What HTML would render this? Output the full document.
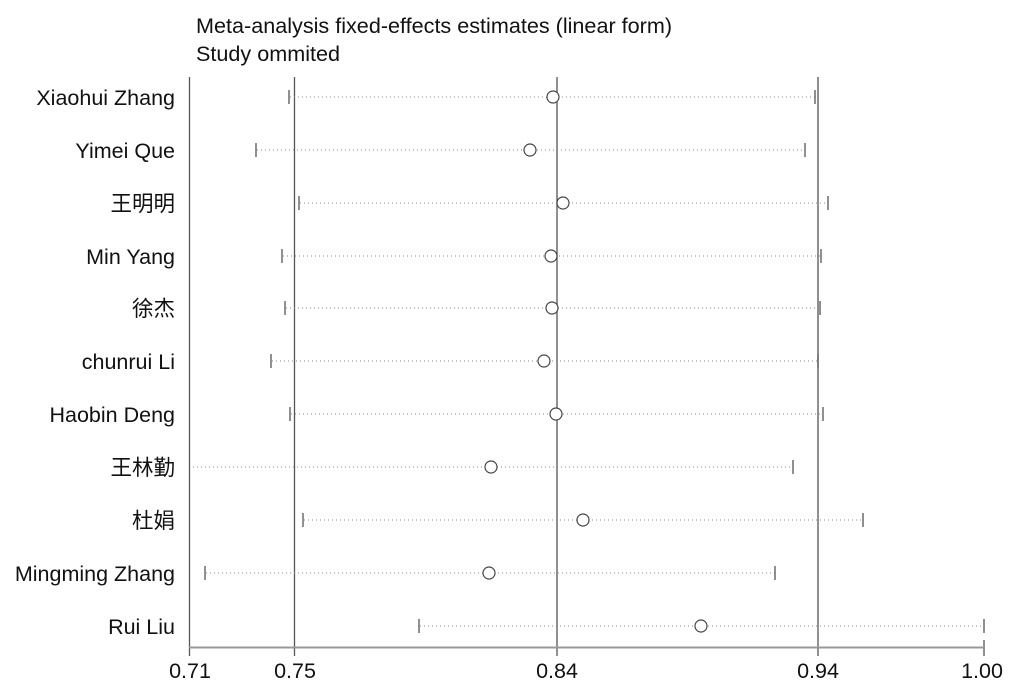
<!DOCTYPE html>
<html><head><meta charset="utf-8"><style>html,body{margin:0;padding:0;background:#fff}</style></head>
<body>
<svg width="1019" height="686" xmlns="http://www.w3.org/2000/svg" style="display:block">
<rect width="1019" height="686" fill="#fff"/>
<g font-family="Liberation Sans, Noto Sans CJK SC, sans-serif" fill="#111">
<text x="196" y="33" font-size="21.6">Meta-analysis fixed-effects estimates (linear form)</text>
<text x="196" y="61" font-size="21.6">Study ommited</text>
</g>
<g stroke="#555" stroke-width="1.3">
<line x1="189.5" y1="77" x2="189.5" y2="656"/>
<line x1="294.5" y1="77" x2="294.5" y2="656"/>
<line x1="557" y1="77" x2="557" y2="656"/>
<line x1="818" y1="77" x2="818" y2="656"/>
<line x1="984" y1="640" x2="984" y2="656"/>
</g>
<line x1="189" y1="647.5" x2="985" y2="647.5" stroke="#999" stroke-width="2"/>
<g font-family="Liberation Sans, sans-serif" font-size="21.5" fill="#111" text-anchor="middle">
<text x="190" y="678">0.71</text><text x="295" y="678">0.75</text><text x="557" y="678">0.84</text><text x="818" y="678">0.94</text><text x="982" y="678">1.00</text>
</g>
<g font-family="Liberation Sans, Noto Sans CJK SC, sans-serif" font-size="21.5" fill="#111" text-anchor="end">
<text x="175" y="105">Xiaohui Zhang</text>
<text x="175" y="158">Yimei Que</text>
<text x="175" y="211">王明明</text>
<text x="175" y="264">Min Yang</text>
<text x="175" y="316">徐杰</text>
<text x="175" y="369">chunrui Li</text>
<text x="175" y="422">Haobin Deng</text>
<text x="175" y="475">王林勤</text>
<text x="175" y="528">杜娟</text>
<text x="175" y="581">Mingming Zhang</text>
<text x="175" y="634">Rui Liu</text>
</g>
<g stroke="#888" stroke-width="1" stroke-dasharray="1,3">
<line x1="290" y1="97" x2="815" y2="97"/>
<line x1="257" y1="150" x2="805" y2="150"/>
<line x1="300" y1="203" x2="828" y2="203"/>
<line x1="283" y1="256" x2="821" y2="256"/>
<line x1="286" y1="308" x2="820" y2="308"/>
<line x1="272" y1="361" x2="818" y2="361"/>
<line x1="291" y1="414" x2="823" y2="414"/>
<line x1="193" y1="467" x2="793" y2="467"/>
<line x1="304" y1="520" x2="863" y2="520"/>
<line x1="206" y1="573" x2="775" y2="573"/>
<line x1="420" y1="626" x2="984" y2="626"/>
</g>
<g stroke="#555" stroke-width="1.3">
<line x1="289" y1="90" x2="289" y2="104"/><line x1="815" y1="90" x2="815" y2="104"/>
<line x1="256" y1="143" x2="256" y2="157"/><line x1="805" y1="143" x2="805" y2="157"/>
<line x1="299" y1="196" x2="299" y2="210"/><line x1="828" y1="196" x2="828" y2="210"/>
<line x1="282" y1="249" x2="282" y2="263"/><line x1="821" y1="249" x2="821" y2="263"/>
<line x1="285" y1="301" x2="285" y2="315"/><line x1="820" y1="301" x2="820" y2="315"/>
<line x1="271" y1="354" x2="271" y2="368"/><line x1="818" y1="354" x2="818" y2="368"/>
<line x1="290" y1="407" x2="290" y2="421"/><line x1="823" y1="407" x2="823" y2="421"/>
<line x1="793" y1="460" x2="793" y2="474"/>
<line x1="303" y1="513" x2="303" y2="527"/><line x1="863" y1="513" x2="863" y2="527"/>
<line x1="205" y1="566" x2="205" y2="580"/><line x1="775" y1="566" x2="775" y2="580"/>
<line x1="419" y1="619" x2="419" y2="633"/><line x1="984" y1="619" x2="984" y2="633"/>
</g>
<g fill="#fff" stroke="#444" stroke-width="1.2">
<circle cx="553" cy="97" r="6"/>
<circle cx="530" cy="150" r="6"/>
<circle cx="563" cy="203" r="6"/>
<circle cx="551" cy="256" r="6"/>
<circle cx="552" cy="308" r="6"/>
<circle cx="544" cy="361" r="6"/>
<circle cx="556" cy="414" r="6"/>
<circle cx="491" cy="467" r="6"/>
<circle cx="583" cy="520" r="6"/>
<circle cx="489" cy="573" r="6"/>
<circle cx="701" cy="626" r="6"/>
</g>
</svg>
</body></html>
